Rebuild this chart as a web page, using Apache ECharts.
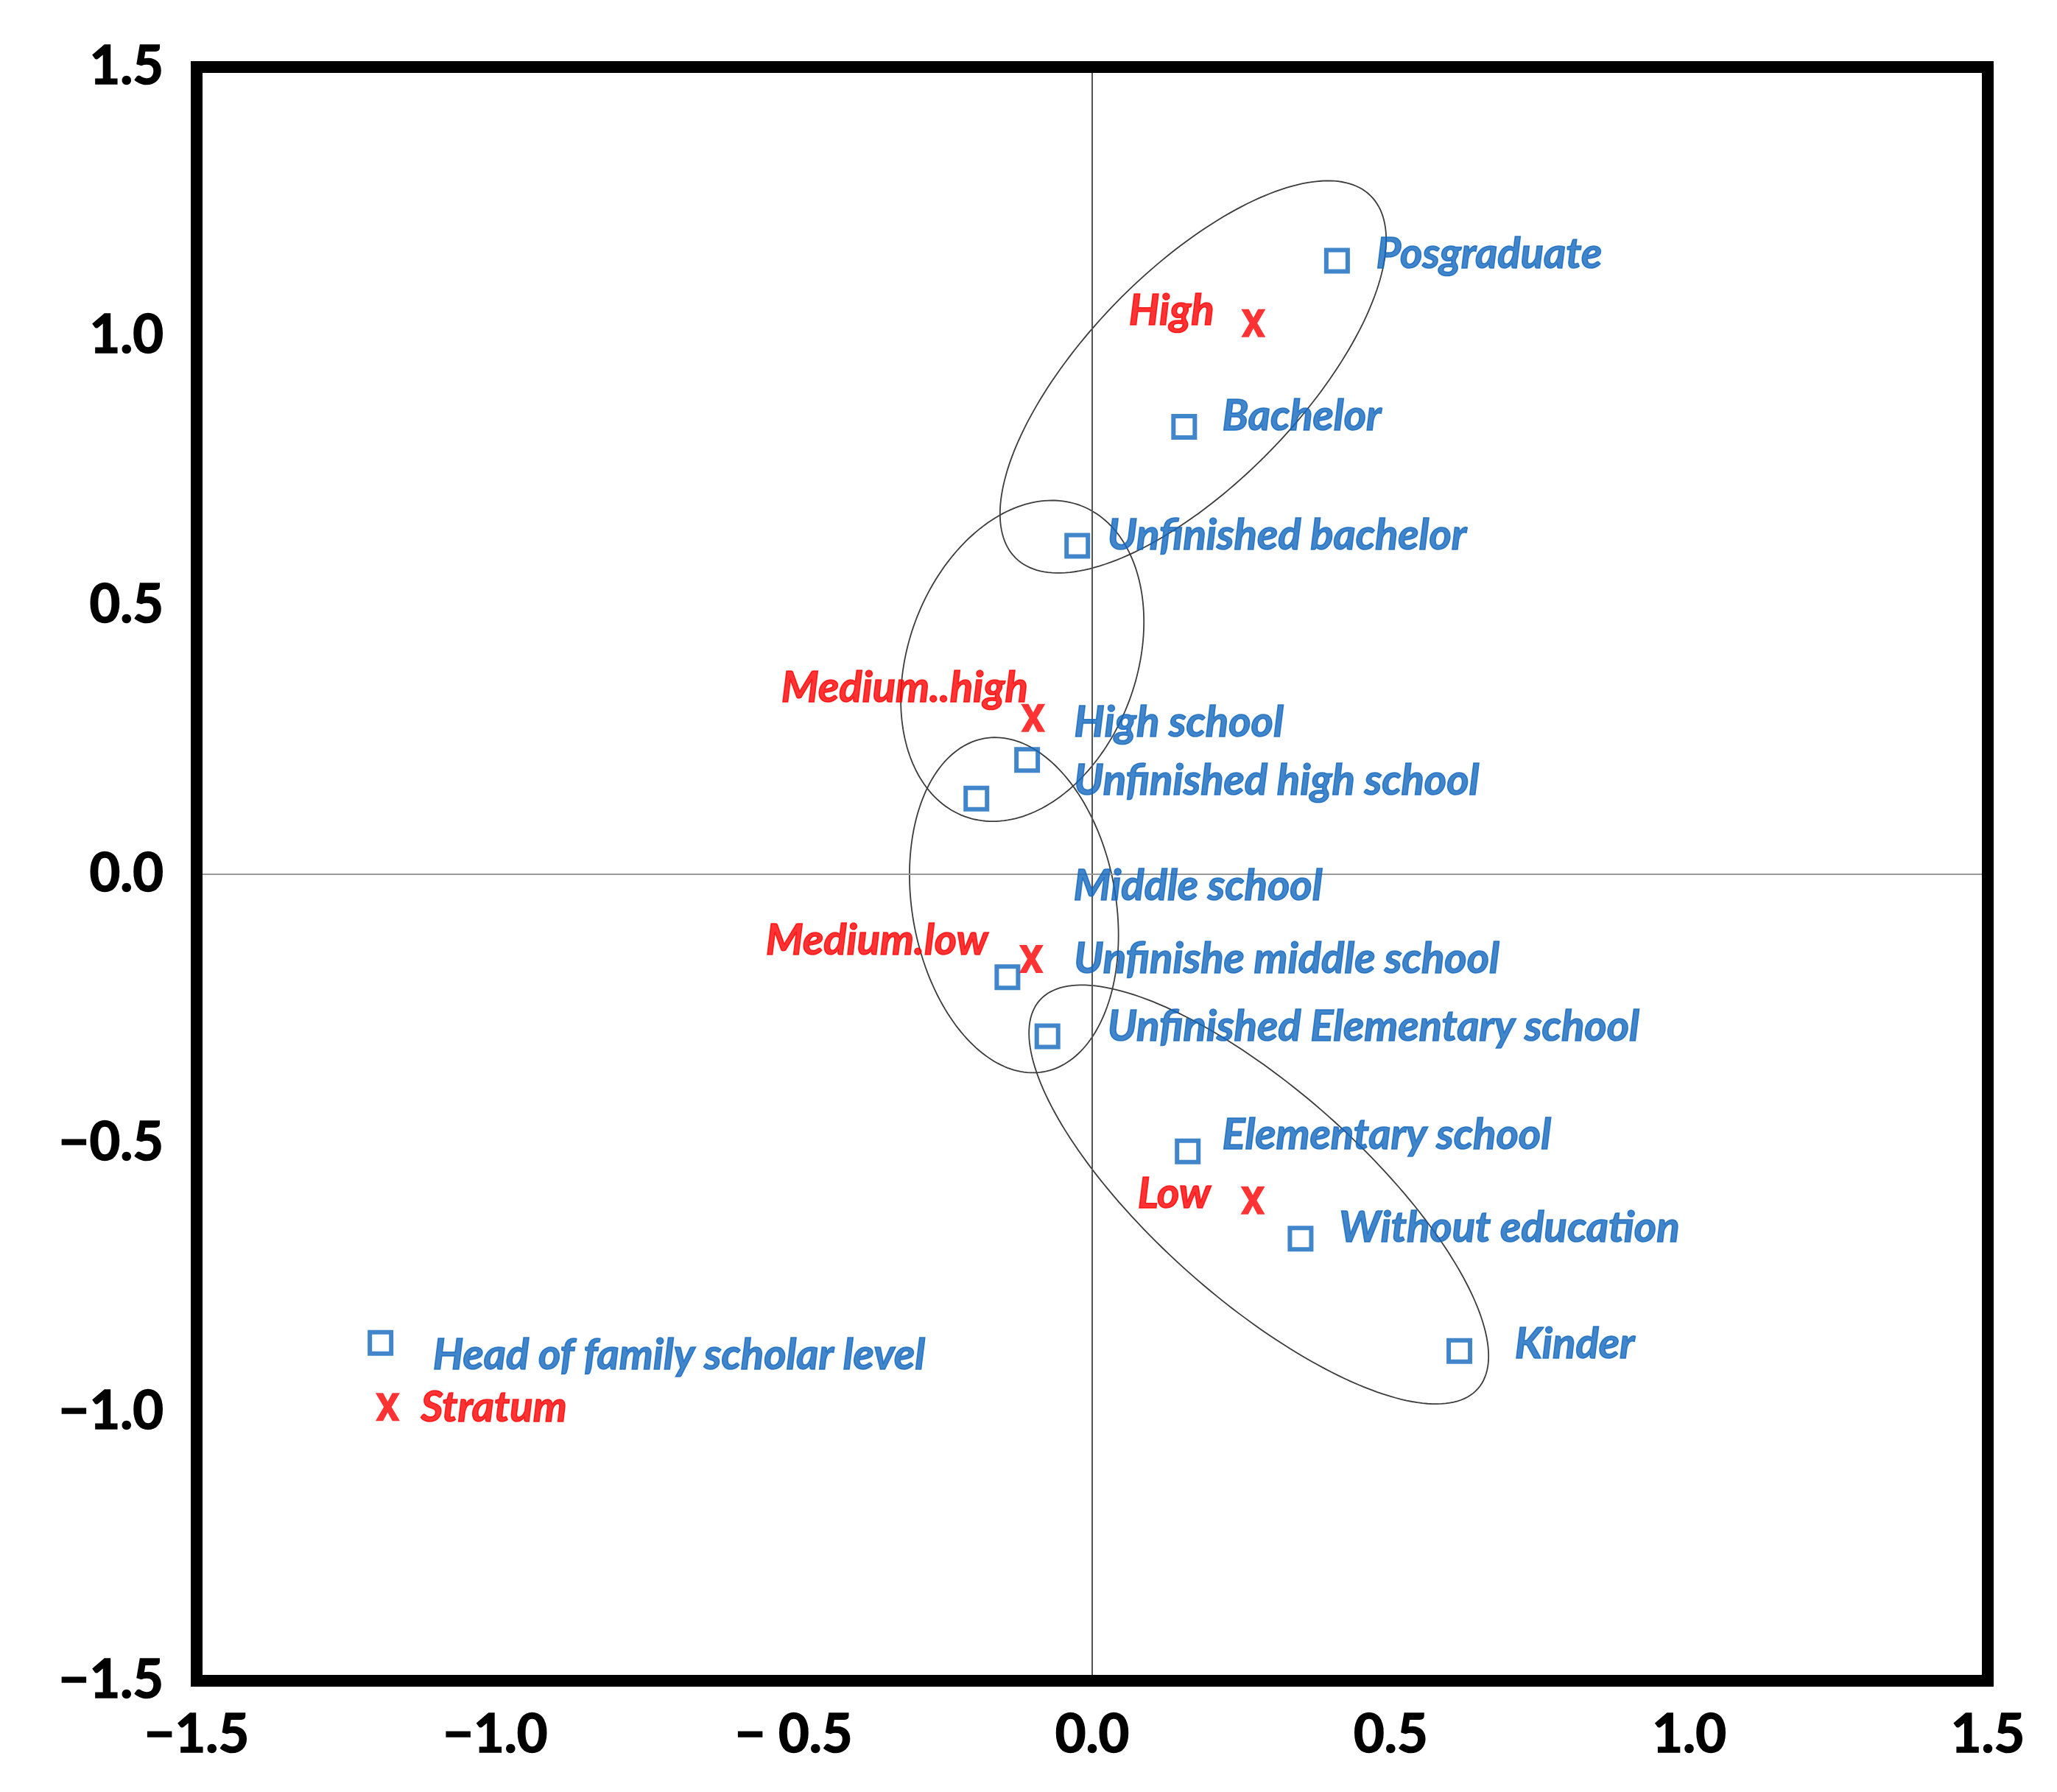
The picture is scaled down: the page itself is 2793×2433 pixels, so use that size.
<!DOCTYPE html>
<html>
<head>
<meta charset="utf-8">
<script src="https://cdn.jsdelivr.net/npm/echarts@6/dist/echarts.min.js"></script>
<style>
  html, body { margin: 0; padding: 0; background: #fff; }
  #chart { width: 2793px; height: 2433px; }
</style>
</head>
<body>
<div id="chart"></div>
<script>
// ---- axes
var axisMin = -1.5;
var axisMax = 1.5;
var axisStep = 0.5;
var xTickLabels = ['\u22121.5', '\u22121.0', '\u2212 0.5', '0.0', '0.5', '1.0', '1.5'];
var yTickLabels = ['\u22121.5', '\u22121.0', '\u22120.5', '0.0', '0.5', '1.0', '1.5'];

// ---- scholar level categories (squares)
var levelNames = ['Posgraduate', 'Bachelor', 'Unfinished bachelor', 'High school', 'Unfinished high school',
                  'Unfinishe middle school', 'Unfinished Elementary school', 'Elementary school',
                  'Without education', 'Kinder', 'Head of family scholar level'];
var levelX = [0.410, 0.154, -0.025, -0.109, -0.194, -0.142, -0.075, 0.160, 0.349, 0.615, -1.192];
var levelY = [1.140, 0.831, 0.610, 0.212, 0.140, -0.192, -0.302, -0.516, -0.678, -0.887, -0.872];

// ---- stratum categories (X marks)
var stratumNames = ['High', 'Medium..high', 'Medium.low', 'Low', 'Stratum'];
var stratumX = [0.270, -0.099, -0.102, 0.269, -1.180];
var stratumY = [1.024, 0.290, -0.158, -0.607, -0.991];

// ---- text labels (anchor in data units)
var blueText = ['Posgraduate', 'Bachelor', 'Unfinished bachelor', 'High school', 'Unfinished high school',
                'Middle school', 'Unfinishe middle school', 'Unfinished Elementary school',
                'Elementary school', 'Without education', 'Kinder', 'Head of family scholar level'];
var blueTextX = [0.475, 0.217, 0.025, -0.031, -0.031, -0.032, -0.031, 0.025, 0.217, 0.413, 0.707, -1.105];
var blueTextY = [1.152, 0.850, 0.629, 0.281, 0.173, -0.023, -0.158, -0.284, -0.486, -0.659, -0.874, -0.895];

var redText = ['High', 'Medium..high', 'Medium.low', 'Low'];   // right aligned
var redTextX = [0.205, -0.107, -0.174, 0.199];
var redTextY = [1.047, 0.346, -0.124, -0.595];
var legendText = ['Stratum'];                                   // left aligned
var legendTextX = [-1.125];
var legendTextY = [-0.992];

// ---- ellipses: centre, first and second half-axis vectors (data units)
var ellCx = [0.169, -0.117, -0.131, 0.279];
var ellCy = [0.924, 0.396, -0.058, -0.596];
var ellAx = [0.297, 0.097, -0.049, 0.367];
var ellAy = [0.337, 0.289, 0.310, -0.361];
var ellBx = [0.128, 0.179, 0.168, -0.116];
var ellBy = [-0.139, -0.074, 0.032, -0.146];

var BLUE = '#1266be';
var RED = '#ff0000';
var xPath = 'path://M0,0 L31,0 L50,31 L69,0 L100,0 L66,50 L100,100 L69,100 L50,69 L31,100 L0,100 L34,50 Z';

function zip(xs, ys, names) {
  var out = [];
  for (var i = 0; i < xs.length; i++) {
    out.push({ name: names[i], value: [xs[i], ys[i]] });
  }
  return out;
}

var ellData = [];
for (var i = 0; i < ellCx.length; i++) {
  ellData.push([ellCx[i], ellCy[i], ellAx[i], ellAy[i], ellBx[i], ellBy[i]]);
}

function renderEllipse(params, api) {
  var cx = api.value(0), cy = api.value(1);
  var ax = api.value(2), ay = api.value(3), bx = api.value(4), by = api.value(5);
  var pts = [];
  for (var k = 0; k <= 200; k++) {
    var t = k / 200 * Math.PI * 2;
    pts.push(api.coord([cx + ax * Math.cos(t) + bx * Math.sin(t),
                        cy + ay * Math.cos(t) + by * Math.sin(t)]));
  }
  return {
    type: 'polyline',
    shape: { points: pts },
    style: { stroke: '#3c3c3c', lineWidth: 1.8, fill: null }
  };
}

function tickIndex(v) { return Math.round((v - axisMin) / axisStep); }

// label style, a thin outline in the same colour thickens the glyphs
function textStyle(color) {
  return { show: true, distance: 0, color: color, textBorderColor: color, textBorderWidth: 1.6,
           fontFamily: 'Lato', fontStyle: 'italic', fontWeight: 'bold', fontSize: 58,
           formatter: function (p) { return p.name; } };
}

var frameLine = { show: true, onZero: false, lineStyle: { color: '#000', width: 16, cap: 'square' } };
var tickFont = { fontFamily: 'Lato', fontWeight: 'bold', fontSize: 72, color: '#000',
                 textBorderColor: '#000', textBorderWidth: 1.6 };

var myChart = echarts.init(document.getElementById('chart'));
var option = {
  animation: false,
  backgroundColor: '#fff',
  grid: { left: 267, right: 94, top: 91, bottom: 151 },
  xAxis: [
    {
      type: 'value', min: axisMin, max: axisMax, interval: axisStep, position: 'bottom', z: 10,
      axisLine: frameLine, axisTick: { show: false }, splitLine: { show: false },
      axisLabel: Object.assign({ margin: 38, formatter: function (v) { return xTickLabels[tickIndex(v)]; } }, tickFont)
    },
    {
      type: 'value', min: axisMin, max: axisMax, interval: axisStep, position: 'top', z: 10,
      axisLine: frameLine, axisTick: { show: false }, splitLine: { show: false }, axisLabel: { show: false }
    }
  ],
  yAxis: [
    {
      type: 'value', min: axisMin, max: axisMax, interval: axisStep, position: 'left', z: 10,
      axisLine: frameLine, axisTick: { show: false }, splitLine: { show: false },
      axisLabel: Object.assign({ margin: 45, formatter: function (v) { return yTickLabels[tickIndex(v)]; } }, tickFont)
    },
    {
      type: 'value', min: axisMin, max: axisMax, interval: axisStep, position: 'right', z: 10,
      axisLine: frameLine, axisTick: { show: false }, splitLine: { show: false }, axisLabel: { show: false }
    }
  ],
  series: [
    {
      name: 'ellipses',
      type: 'custom',
      silent: true,
      renderItem: renderEllipse,
      encode: { x: 0, y: 1 },
      data: ellData,
      z: 1
    },
    {
      name: 'levels',
      type: 'scatter',
      symbol: 'rect',
      symbolSize: 29,
      itemStyle: { color: 'rgba(0,0,0,0)', borderColor: BLUE, borderWidth: 6 },
      data: zip(levelX, levelY, levelNames),
      markLine: {
        silent: true,
        symbol: ['none', 'none'],
        label: { show: false },
        data: [
          { xAxis: 0, lineStyle: { color: '#555', width: 2, type: 'solid' } },
          { yAxis: 0, lineStyle: { color: '#9a9a9a', width: 2, type: 'solid' } }
        ]
      },
      z: 3
    },
    {
      name: 'stratum',
      type: 'scatter',
      symbol: xPath,
      symbolSize: [33, 38],
      symbolKeepAspect: false,
      itemStyle: { color: RED },
      data: zip(stratumX, stratumY, stratumNames),
      z: 4
    },
    {
      name: 'blue text',
      type: 'scatter',
      symbolSize: 1,
      itemStyle: { color: 'rgba(0,0,0,0)' },
      silent: true,
      label: Object.assign(textStyle(BLUE), { position: 'right' }),
      data: zip(blueTextX, blueTextY, blueText),
      z: 5
    },
    {
      name: 'red text',
      type: 'scatter',
      symbolSize: 1,
      itemStyle: { color: 'rgba(0,0,0,0)' },
      silent: true,
      label: Object.assign(textStyle(RED), { position: 'left' }),
      data: zip(redTextX, redTextY, redText),
      z: 5
    },
    {
      name: 'stratum text',
      type: 'scatter',
      symbolSize: 1,
      itemStyle: { color: 'rgba(0,0,0,0)' },
      silent: true,
      label: Object.assign(textStyle(RED), { position: 'right' }),
      data: zip(legendTextX, legendTextY, legendText),
      z: 5
    }
  ]
};
myChart.setOption(option);
</script>
</body>
</html>
